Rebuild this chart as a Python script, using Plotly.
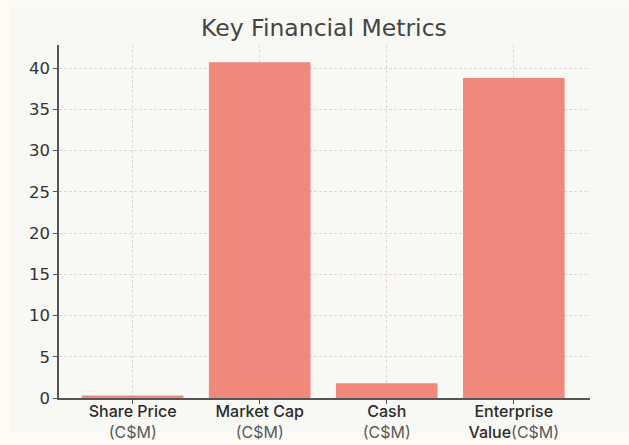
import plotly.graph_objects as go

metrics = ["Share Price", "Market Cap", "Cash", "Enterprise"]
units = ["(C$M)", "(C$M)", "(C$M)", "Value(C$M)"]
values = [0.3, 40.7, 1.8, 38.8]
y_ticks = [0, 5, 10, 15, 20, 25, 30, 35, 40]

def tick_label(name, unit):
    if unit.startswith("Value"):
        return ("<span style='color:#2b2b2b'>%s</span><br>"
                "<span style='color:#2b2b2b'>Value</span>"
                "<span style='color:#5a5a5a;font-weight:400'>(C$M)</span>" % name)
    return ("<span style='color:#2b2b2b'>%s</span><br>"
            "<span style='color:#5a5a5a;font-weight:400'>%s</span>" % (name, unit))

ticktext = [tick_label(m, u) for m, u in zip(metrics, units)]

fig = go.Figure(go.Bar(x=list(range(len(metrics))), y=values, width=0.8,
                       marker=dict(color="#f0887c", line=dict(width=0))))

# inner panel behind the chart
fig.add_shape(type="rect", xref="paper", yref="paper", x0=-0.092, x1=1.08, y0=-0.096, y1=1.108,
              fillcolor="#f8f8f4", line=dict(width=0), layer="below")

fig.update_layout(
    width=629, height=445,
    margin=dict(l=59, r=39, t=45, b=47),
    paper_bgcolor="#fefaf4", plot_bgcolor="#f8f8f4",
    title=dict(text="Key Financial Metrics", x=0.515, xanchor="center", y=0.937, yanchor="middle",
               font=dict(family="DejaVu Sans", size=23.5, color="#444444")),
    showlegend=False, bargap=0.2,
)
fig.update_xaxes(
    range=[-0.58, 3.6], tickmode="array", tickvals=list(range(len(metrics))), ticktext=ticktext,
    tickfont=dict(family="Inter", size=16, color="#2b2b2b", weight=500),
    showline=True, linecolor="#555", linewidth=1.5, ticks="outside", ticklen=4, tickcolor="#555",
    ticklabelstandoff=-6,
    showgrid=True, gridcolor="#e4d6d6", griddash="3px,2px", gridwidth=1, zeroline=False,
    automargin=False,
)
fig.update_yaxes(
    range=[0, 42.8], tickvals=y_ticks,
    tickfont=dict(family="DejaVu Sans", size=16.5, color="#333"),
    showline=True, linecolor="#555", linewidth=1.5, ticks="outside", ticklen=4, tickcolor="#555",
    showgrid=True, gridcolor="#e4d6d6", griddash="3px,2px", gridwidth=1, zeroline=False,
    automargin=False,
)

# drop the browser's default body margin so the figure fills the window
fig.write_html("out.html", config={"displayModeBar": False},
               post_script="document.body.style.margin='0';")
